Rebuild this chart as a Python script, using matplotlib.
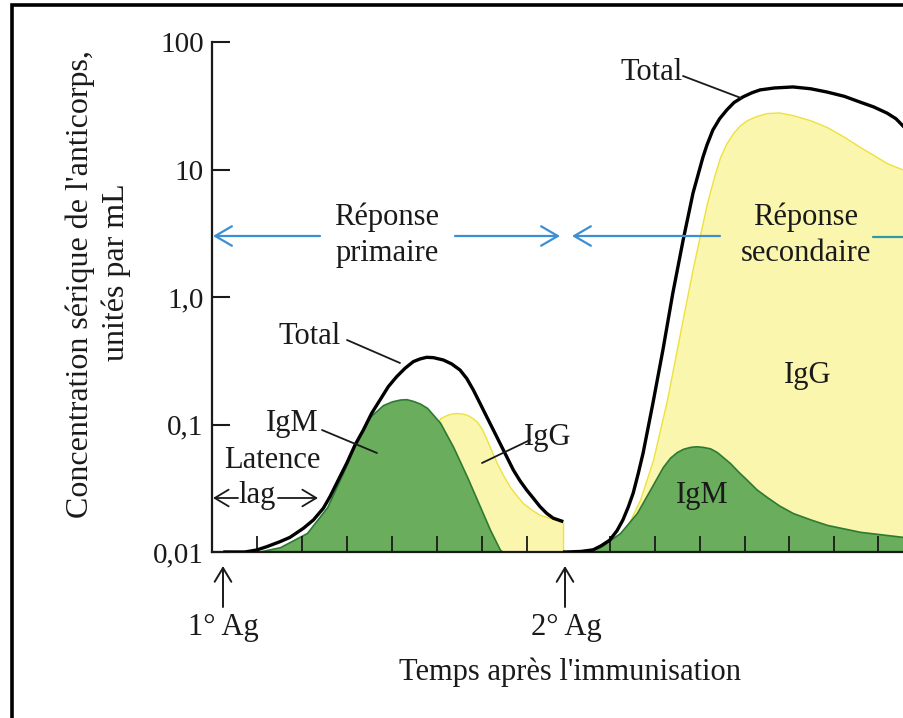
import matplotlib
matplotlib.use("Agg")
import matplotlib.pyplot as plt
from matplotlib.patches import Rectangle

# ---------------- data (time in tick units, values in units/mL) ----------------
ag1_time = 0.25
ag2_time = 7.8
tick_times = [1, 2, 3, 4, 5, 6, 7, 8.84, 9.84, 10.84, 11.84, 12.82, 13.82, 14.8]

y_ticks = [0.01, 0.1, 1, 10, 100]
y_tick_labels = ["0,01", "0,1", "1,0", "10", "100"]

# primary response
prim_total_t = [0.25, 0.733, 0.993, 1.215, 1.511, 1.733, 2.03, 2.252, 2.474, 2.622, 2.807,
                2.993, 3.178, 3.363, 3.548, 3.733, 3.918, 4.104, 4.289, 4.474, 4.622,
                4.77, 4.919, 5.141, 5.326, 5.511, 5.659, 5.807, 5.956, 6.104, 6.252, 6.4,
                6.548, 6.696, 6.844, 6.993, 7.141, 7.289, 7.437, 7.585, 7.807]
prim_total_v = [0.01, 0.01, 0.01037, 0.011, 0.01205, 0.01303, 0.01534, 0.01782, 0.02203,
                0.02717, 0.03672, 0.04955, 0.06902, 0.09057, 0.1225, 0.1557, 0.1981,
                0.2373, 0.2759, 0.3113, 0.3266, 0.3365, 0.3345, 0.3206, 0.2985, 0.2676,
                0.2301, 0.1866, 0.1466, 0.1151, 0.0906, 0.0712, 0.056, 0.044, 0.0362,
                0.0306, 0.0264, 0.0227, 0.0201, 0.0184, 0.0173]

prim_igm_t = [1.0, 1.51, 2.11, 2.56, 2.91, 3.22, 3.51, 3.8, 4.0, 4.18, 4.32, 4.47, 4.62,
              4.78, 5.07, 5.36, 5.67, 5.96, 6.18, 6.4, 6.47]
prim_igm_v = [0.01, 0.0109, 0.0141, 0.0225, 0.0417, 0.0755, 0.115, 0.142, 0.152, 0.157,
              0.158, 0.153, 0.146, 0.135, 0.103, 0.0667, 0.0387, 0.0225, 0.0149, 0.0104,
              0.01]

prim_igg_t = [3.73, 4.4, 4.84, 5.07, 5.22, 5.33, 5.44, 5.56, 5.67, 5.78, 5.89, 6.0, 6.11,
              6.22, 6.33, 6.47, 6.62, 6.76, 6.91, 7.1, 7.29, 7.58, 7.8]
prim_igg_v = [0.01, 0.0256, 0.0755, 0.112, 0.119, 0.122, 0.123, 0.122, 0.119, 0.113,
              0.105, 0.092, 0.0755, 0.061, 0.0499, 0.04, 0.0324, 0.028, 0.0242, 0.0215,
              0.0195, 0.0182, 0.017]

# secondary response
sec_total_t = [7.8, 7.89, 8.2, 8.47, 8.65, 8.84, 9.0, 9.13, 9.25, 9.36, 9.47, 9.58, 9.8,
               10.02, 10.24, 10.47, 10.69, 10.91, 11.0, 11.13, 11.28, 11.44, 11.6, 11.8,
               12.0, 12.18, 12.5, 12.91, 13.3, 13.67, 14.05, 14.4, 14.7, 15.0, 15.2,
               15.38]
sec_total_v = [0.01, 0.01, 0.0101, 0.0104, 0.0112, 0.0124, 0.0147, 0.0178, 0.0225,
               0.029, 0.041, 0.0597, 0.148, 0.384, 1.07, 2.8, 6.55, 12.5, 15.6, 20.4,
               25.0, 29.3, 33.5, 37.1, 40.0, 42.1, 43.6, 44.4, 43.0, 40.5, 37.5, 33.8,
               31.0, 27.7, 25.0, 21.5]

sec_igg_t = [8.2, 8.47, 8.84, 9.22, 9.51, 9.8, 10.11, 10.4, 10.69, 11.0, 11.15, 11.29,
             11.43, 11.58, 11.73, 11.89, 12.1, 12.33, 12.6, 12.91, 13.3, 13.67, 14.05,
             14.4, 14.7, 15.0, 15.38]
sec_igg_v = [0.01, 0.01, 0.0109, 0.0157, 0.0256, 0.0527, 0.156, 0.522, 1.72, 5.46, 8.6,
             12.5, 16.0, 19.3, 22.2, 24.4, 26.3, 27.7, 28.0, 26.7, 24.3, 21.5, 18.0,
             15.0, 13.0, 11.2, 9.9]

sec_igm_t = [8.18, 8.62, 9.07, 9.44, 9.73, 9.88, 10.02, 10.18, 10.33, 10.47, 10.62,
             10.76, 10.91, 11.07, 11.22, 11.51, 11.7, 11.89, 12.1, 12.33, 12.6, 12.91,
             13.3, 13.67, 14.4, 15.38]
sec_igm_v = [0.01, 0.0109, 0.0141, 0.0202, 0.0306, 0.038, 0.0465, 0.055, 0.0608, 0.0645,
             0.0667, 0.0675, 0.0667, 0.065, 0.0608, 0.0499, 0.0425, 0.0367, 0.031,
             0.027, 0.0232, 0.0202, 0.018, 0.0163, 0.0144, 0.0131]

# ---------------- style ----------------
plt.rcParams["font.family"] = ["Liberation Serif", "DejaVu Serif"]
W, H = 904, 718
FS = 22
BLUE = "#3b8fd4"
GREEN = "#6aad5d"
GREEN_EDGE = "#2f7a33"
YELLOW = "#fbf6ad"
YELLOW_EDGE = "#ece23e"


def P(x, y):
    """reference-image pixel -> figure fraction"""
    return (x / W, 1 - y / H)


fig = plt.figure(figsize=(W / 100, H / 100), dpi=100)
ax = fig.add_axes([212 / W, 166 / H, (W - 212) / W, (552 - 42) / H])
ax.set_yscale("log")
ax.set_ylim(0.01, 100)
ax.set_xlim(0, (W - 212) / 45)

for s in ["top", "right"]:
    ax.spines[s].set_visible(False)
for s in ["left", "bottom"]:
    ax.spines[s].set_linewidth(1.6)
    ax.spines[s].set_color("#1a1a1a")

ax.set_yticks(y_ticks)
ax.set_yticklabels(y_tick_labels)
ax.yaxis.set_minor_locator(matplotlib.ticker.NullLocator())
ax.tick_params(axis="y", direction="in", length=13, width=1.5, labelsize=21, pad=6,
               colors="#1a1a1a")
ax.set_xticks(tick_times)
ax.tick_params(axis="x", direction="in", length=11.5, width=1.3, labelbottom=False,
               colors="#1a1a1a")

# fills
ax.fill_between(prim_igg_t, 0.01, prim_igg_v, facecolor=YELLOW, edgecolor=YELLOW_EDGE,
                lw=1.0, zorder=1.0)
ax.fill_between(prim_igm_t, 0.01, prim_igm_v, facecolor=GREEN, edgecolor=GREEN_EDGE,
                lw=1.2, zorder=1.2)
ax.fill_between(sec_igg_t, 0.01, sec_igg_v, facecolor=YELLOW, edgecolor=YELLOW_EDGE,
                lw=1.0, zorder=1.0)
ax.fill_between(sec_igm_t, 0.01, sec_igm_v, facecolor=GREEN, edgecolor=GREEN_EDGE,
                lw=1.2, zorder=1.2)

# totals
ax.plot(prim_total_t, prim_total_v, color="black", lw=2.4, solid_joinstyle="round",
        solid_capstyle="butt", zorder=3)
ax.plot(sec_total_t, sec_total_v, color="black", lw=2.4, solid_joinstyle="round",
        solid_capstyle="butt", zorder=3)


def text(x, y, s, **kw):
    kw.setdefault("fontsize", FS)
    fig.text(*P(x, y), s, ha="center", va="center", color="#1a1a1a", **kw)


def line(x0, y0, x1, y1, style="-", color="#1a1a1a", lw=1.3, ms=20):
    ax.annotate("", xy=P(x1, y1), xytext=P(x0, y0), xycoords="figure fraction",
                textcoords="figure fraction",
                arrowprops=dict(arrowstyle=style, color=color, lw=lw, mutation_scale=ms,
                                shrinkA=0, shrinkB=0),
                annotation_clip=False)


# labels and leaders (primary)
text(310, 336, "Total")
line(347, 340, 400, 363)
text(292, 424, "IgM")
line(322, 430, 377, 453)
text(272, 461, "Latence")
text(257, 496, "lag")
line(238, 498, 213, 498, style="->,head_length=0.5,head_width=0.3")
line(278, 498, 318, 498, style="->,head_length=0.5,head_width=0.3")
text(548, 437, "IgG")
line(530, 440, 482, 463)

# secondary
text(652, 73, "Total")
line(683, 76, 741, 98)
text(808, 376, "IgG")
text(702, 496, "IgM")

# response arrows
text(387, 235, "Réponse\nprimaire", linespacing=1.3)
line(320, 236, 213, 236, style="->,head_length=0.6,head_width=0.35", color=BLUE, lw=1.6)
line(455, 236, 560, 236, style="->,head_length=0.6,head_width=0.35", color=BLUE, lw=1.6)
text(806, 235, "Réponse\nsecondaire", linespacing=1.3)
line(720, 236, 572, 236, style="->,head_length=0.6,head_width=0.35", color=BLUE, lw=1.6)
line(873, 237, 910, 237, color="#2f9aa5", lw=1.6)

# antigen arrows
line(223, 607, 223, 566, style="->,head_length=0.5,head_width=0.3", lw=1.4)
text(223, 628, "1° Ag")
line(565, 607, 565, 566, style="->,head_length=0.5,head_width=0.3", lw=1.4)
text(566, 628, "2° Ag")

text(570, 672, "Temps après l'immunisation")

# y label
text(80, 284, "Concentration sérique de l'anticorps,", rotation=90, fontsize=23)
text(116, 272, "unités par mL", rotation=90, fontsize=23)

# frame (left + top only visible)
fig.add_artist(Rectangle((12 / W, -0.1), 1.5, 1.1 - 5 / H, transform=fig.transFigure,
                         fill=False, lw=2.6, edgecolor="black", clip_on=False))

fig.savefig("out.png", dpi=100)
